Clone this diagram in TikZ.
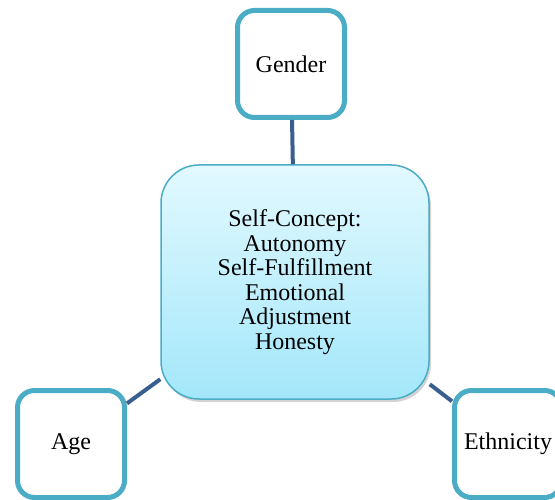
\documentclass[tikz,border=0pt]{standalone}
\usepackage{fontspec}
\setmainfont{Liberation Serif}
\usetikzlibrary{shadows}
\definecolor{boxline}{HTML}{4BACC6}
\definecolor{linkline}{HTML}{3B5E91}
\definecolor{coretop}{HTML}{E2F9FF}
\definecolor{corebottom}{HTML}{A3E7FA}
\tikzset{factor/.style={draw=boxline,line width=5pt,fill=white,rounded corners=17pt,
        minimum width=107pt,minimum height=107pt,align=center,font=\fontsize{24}{24.5}\selectfont},
    core/.style={draw=boxline,line width=1.5pt,rounded corners=38pt,
        minimum width=268pt,minimum height=234pt,align=center,
        top color=coretop,bottom color=corebottom,
        drop shadow={opacity=0.35,shadow xshift=2pt,shadow yshift=-3pt},
        font=\fontsize{24}{24.5}\selectfont},
    link/.style={draw=linkline,line width=4pt},
    }
\begin{document}
\begin{tikzpicture}[x=1pt,y=-1pt]
\useasboundingbox (0,0) rectangle (555,500);
\node[core] (self) at (295,282) {Self-Concept:\\Autonomy\\Self-Fulfillment\\Emotional\\Adjustment\\Honesty};
\node[factor] (gender) at (291,64) {Gender};
\node[factor] (age) at (71,444) {Age};
\node[factor] (ethnicity) at (508,444) {Ethnicity};
\draw[link] (gender) -- (self);
\draw[link] (age) -- (self);
\draw[link] (ethnicity) -- (self);
\end{tikzpicture}
\end{document}
